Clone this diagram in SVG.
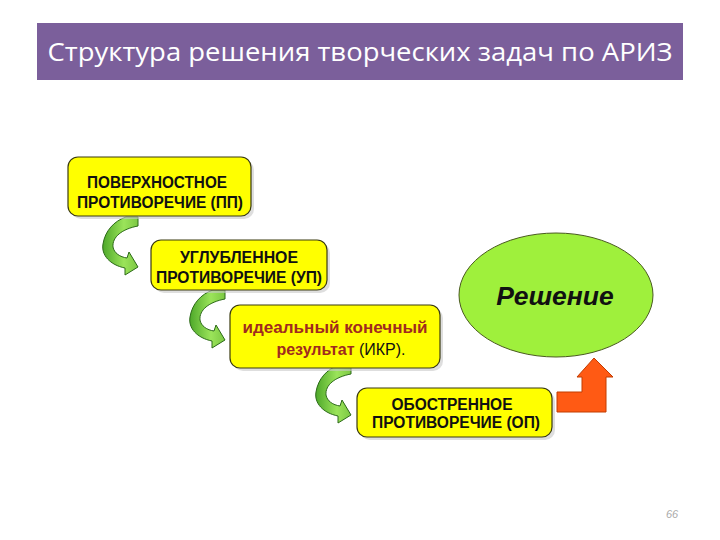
<svg xmlns="http://www.w3.org/2000/svg" width="720" height="540" viewBox="0 0 720 540">
<style>
.box{fill:#ffff00;stroke:#3a3a10;stroke-width:1.2}
.shadow{fill:#c8c8c8;opacity:0.6}
.t{font-family:"Liberation Sans",Arial,sans-serif;font-weight:bold;font-size:16px;fill:#111;text-anchor:middle}
.r{fill:#a02a1e}
.arr{fill:url(#g);stroke:#2c6a18;stroke-width:1}
</style>
<defs>
<linearGradient id="g" x1="0" y1="0" x2="1" y2="0">
<stop offset="0" stop-color="#4ea82a"/>
<stop offset="0.6" stop-color="#9be45a"/>
<stop offset="1" stop-color="#7cc843"/>
</linearGradient>
<path id="curl" class="arr" d="M -12,0 L 0,0 L 0,9 C -16,12 -26,20 -25,30 C -24,36 -18,40 -11,41 L -9,35 L 0,50 L -13,58 L -13,51 C -28,48 -37,38 -35,27 C -33,14 -24,4 -12,0 Z"/>
</defs>
<rect width="720" height="540" fill="#ffffff"/>
<g id="title">
<rect x="37" y="23" width="646" height="57" fill="#7b5f9b"/>
<text x="360" y="61" font-family="'Open Sans','Noto Sans',sans-serif" font-size="26" fill="#ffffff" text-anchor="middle" textLength="625" lengthAdjust="spacingAndGlyphs">Структура решения творческих задач по АРИЗ</text>
</g>
<g id="connectors">
<use href="#curl" transform="translate(138,217)"/>
<use href="#curl" transform="translate(225,290)"/>
<use href="#curl" transform="translate(351,365)"/>
<path d="M557,392 L582,392 L582,377 L577,377 L594,358 L613,377 L606,377 L606,412 L557,412 Z" fill="#ff5a14" stroke="#c23c00" stroke-width="1"/>
</g>
<g id="n1">
<rect class="shadow" x="71" y="160" width="183" height="59" rx="10"/>
<rect class="box" x="68" y="157" width="183" height="59" rx="10"/>
<text class="t" x="157" y="188" textLength="140" lengthAdjust="spacingAndGlyphs">ПОВЕРХНОСТНОЕ</text>
<text class="t" x="160" y="208" textLength="166" lengthAdjust="spacingAndGlyphs">ПРОТИВОРЕЧИЕ (ПП)</text>
</g>
<g id="n2">
<rect class="shadow" x="154" y="243" width="176" height="50" rx="10"/>
<rect class="box" x="151" y="240" width="176" height="50" rx="10"/>
<text class="t" x="239" y="263" textLength="118" lengthAdjust="spacingAndGlyphs">УГЛУБЛЕННОЕ</text>
<text class="t" x="239" y="283" textLength="166" lengthAdjust="spacingAndGlyphs">ПРОТИВОРЕЧИЕ (УП)</text>
</g>
<g id="n3">
<rect class="shadow" x="233" y="308" width="210" height="63" rx="10"/>
<rect class="box" x="230" y="305" width="210" height="63" rx="10"/>
<text class="t r" x="335" y="333" font-size="18" textLength="185" lengthAdjust="spacingAndGlyphs">идеальный конечный</text>
<text class="t" x="341" y="355" font-size="18"><tspan class="r">результат</tspan><tspan font-weight="normal"> (ИКР).</tspan></text>
</g>
<g id="n4">
<rect class="shadow" x="360" y="391" width="195" height="49" rx="10"/>
<rect class="box" x="357" y="388" width="195" height="49" rx="10"/>
<text class="t" x="452" y="410" textLength="121" lengthAdjust="spacingAndGlyphs">ОБОСТРЕННОЕ</text>
<text class="t" x="456" y="428" textLength="168" lengthAdjust="spacingAndGlyphs">ПРОТИВОРЕЧИЕ (ОП)</text>
</g>
<g id="n5">
<ellipse cx="556" cy="295" rx="97" ry="62" fill="#9ff03c" stroke="#4a5a20" stroke-width="1"/>
<text x="555" y="305" font-family="'Liberation Sans',Arial,sans-serif" font-weight="bold" font-style="italic" font-size="26.5" fill="#111" text-anchor="middle">Решение</text>
</g>
<text x="672" y="518" font-family="'Liberation Sans',Arial,sans-serif" font-size="11" font-style="italic" fill="#aaaaaa" text-anchor="middle">66</text>
</svg>
